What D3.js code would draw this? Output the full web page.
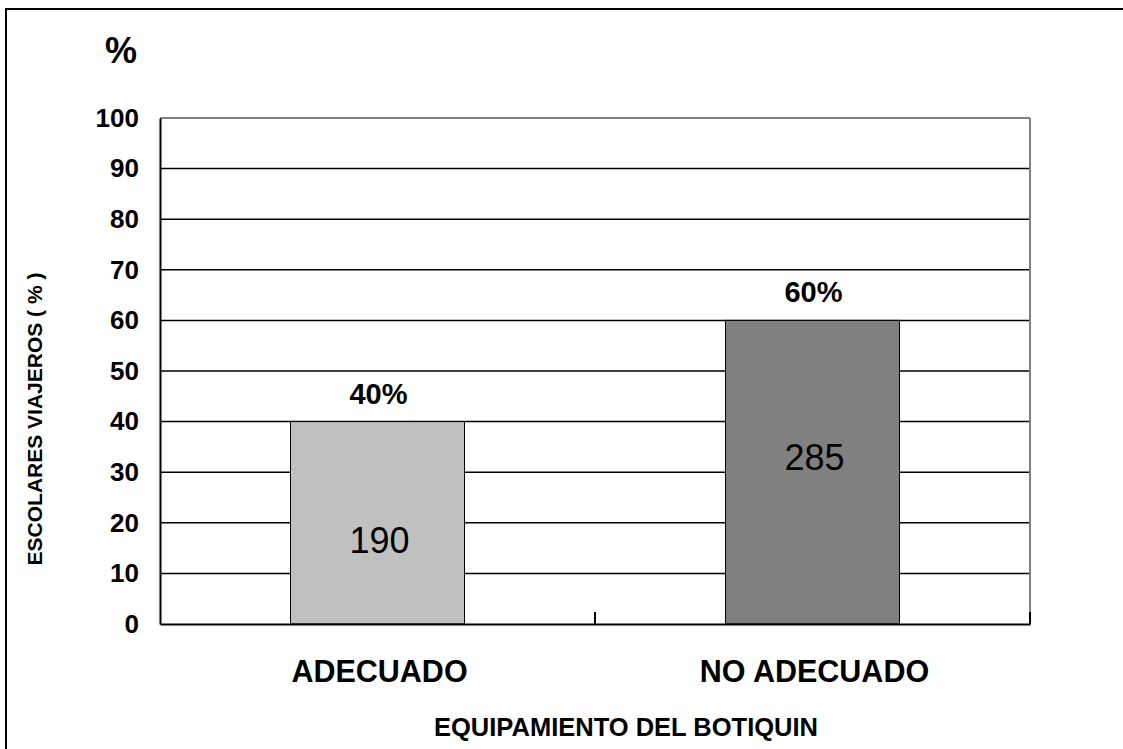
<!DOCTYPE html>
<html>
<head>
<meta charset="utf-8">
<script src="https://cdn.jsdelivr.net/npm/d3@7"></script>
<style>
  html, body { margin: 0; padding: 0; background: #fff; overflow: hidden; }
  svg { display: block; font-family: "Liberation Sans", Arial, sans-serif; }
</style>
</head>
<body>
<svg id="chart" width="1123" height="749"></svg>
<script>
// Equipamiento del botiquín: porcentaje y número de escolares viajeros
const categories = ["ADECUADO", "NO ADECUADO"];
const percents = [40, 60];
const counts = [190, 285];
const barColors = ["#C0C0C0", "#808080"];
const yTicks = [0, 10, 20, 30, 40, 50, 60, 70, 80, 90, 100];
// where (in axis units) each count label sits inside its bar
const countLabelAt = [14, 30.5];

const svg = d3.select("#chart");
const plot = { left: 160, right: 1030, top: 118, bottom: 624 };

// outer frame (top and left edges)
svg.append("path")
  .attr("d", "M6,760 L6,9 L1130,9")
  .attr("fill", "none").attr("stroke", "#000").attr("stroke-width", 2);

const x = d3.scaleBand().domain(categories).range([plot.left, plot.right]).padding(0);
const y = d3.scaleLinear().domain([0, 100]).range([plot.bottom, plot.top]);

// horizontal gridlines
svg.append("g")
  .selectAll("line")
  .data(yTicks.filter(t => t > 0 && t < 100))
  .join("line")
  .attr("x1", plot.left).attr("x2", plot.right)
  .attr("y1", d => y(d)).attr("y2", d => y(d))
  .attr("stroke", "#000").attr("stroke-width", 1.5);

// plot area border (top / right in grey)
svg.append("line")
  .attr("x1", plot.left).attr("x2", plot.right)
  .attr("y1", y(100)).attr("y2", y(100))
  .attr("stroke", "#808080").attr("stroke-width", 2);
svg.append("line")
  .attr("x1", plot.right).attr("x2", plot.right)
  .attr("y1", y(100)).attr("y2", y(0))
  .attr("stroke", "#808080").attr("stroke-width", 2);

// bars
const bw = x.bandwidth() * 0.4;
const off = (x.bandwidth() - bw) / 2;
svg.append("g")
  .selectAll("rect")
  .data(categories)
  .join("rect")
  .attr("x", d => x(d) + off)
  .attr("y", (d, i) => y(percents[i]))
  .attr("width", bw)
  .attr("height", (d, i) => y(0) - y(percents[i]))
  .attr("fill", (d, i) => barColors[i])
  .attr("stroke", "#000").attr("stroke-width", 1);

// y axis
const yAxis = d3.axisLeft(y).tickValues(yTicks).tickSize(0).tickPadding(21).tickFormat(d3.format("d"));
const gy = svg.append("g").attr("transform", `translate(${plot.left},0)`).call(yAxis);
gy.select(".domain").attr("stroke", "#000").attr("stroke-width", 2);
gy.selectAll("text")
  .attr("font-size", 26).attr("font-weight", "bold").attr("fill", "#000")
  .attr("font-family", "Liberation Sans, Arial, sans-serif");

// x axis with tick marks between categories
const xAxis = d3.axisBottom(x).tickSize(0).tickFormat("");
const gx = svg.append("g").attr("transform", `translate(0,${plot.bottom})`).call(xAxis);
gx.select(".domain").attr("stroke", "#000").attr("stroke-width", 2);
const bounds = categories.map(c => x(c) + x.bandwidth());
svg.append("g")
  .selectAll("line")
  .data(bounds)
  .join("line")
  .attr("x1", d => d).attr("x2", d => d)
  .attr("y1", plot.bottom).attr("y2", plot.bottom - 12)
  .attr("stroke", "#000").attr("stroke-width", 2);

// category labels
svg.append("g")
  .selectAll("text")
  .data(categories)
  .join("text")
  .attr("x", d => x(d) + x.bandwidth() / 2 + 2)
  .attr("y", 682)
  .attr("text-anchor", "middle")
  .attr("font-size", 30.5).attr("font-weight", "bold")
  .text(d => d);

// percentage labels above bars
svg.append("g")
  .selectAll("text")
  .data(categories)
  .join("text")
  .attr("x", d => x(d) + x.bandwidth() / 2 + 1)
  .attr("y", (d, i) => y(percents[i]) - 18)
  .attr("text-anchor", "middle")
  .attr("font-size", 29).attr("font-weight", "bold")
  .text((d, i) => percents[i] + "%");

// counts inside bars
svg.append("g")
  .selectAll("text")
  .data(categories)
  .join("text")
  .attr("x", d => x(d) + x.bandwidth() / 2 + 2)
  .attr("y", (d, i) => y(countLabelAt[i]))
  .attr("text-anchor", "middle")
  .attr("font-size", 36)
  .text((d, i) => counts[i]);

// axis titles
svg.append("text")
  .attr("x", 121).attr("y", 63)
  .attr("text-anchor", "middle")
  .attr("font-size", 36).attr("font-weight", "bold")
  .text("%");

svg.append("text")
  .attr("transform", "translate(42,419) rotate(-90)")
  .attr("text-anchor", "middle")
  .attr("font-size", 21).attr("font-weight", "bold")
  .text("ESCOLARES VIAJEROS ( % )");

svg.append("text")
  .attr("x", 626).attr("y", 736)
  .attr("text-anchor", "middle")
  .attr("font-size", 25.5).attr("font-weight", "bold")
  .text("EQUIPAMIENTO DEL BOTIQUIN");
</script>
</body>
</html>
